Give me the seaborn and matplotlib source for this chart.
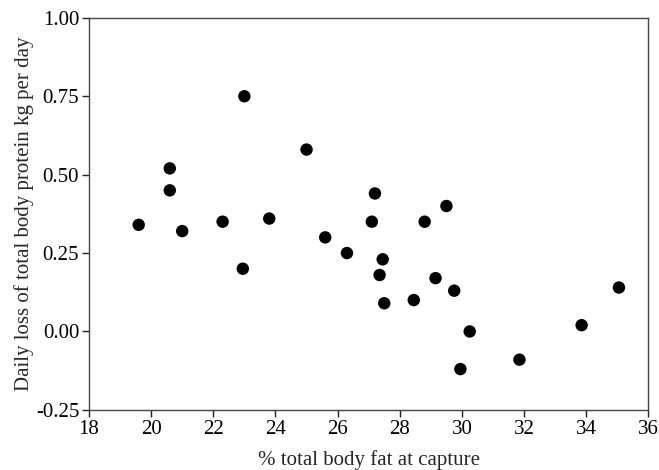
import numpy as np
import pandas as pd
import seaborn as sns
import matplotlib
matplotlib.use("Agg")
import matplotlib.pyplot as plt

# % total body fat at capture
body_fat = [19.6, 20.6, 20.6, 21.0, 22.3, 23.0, 23.8, 25.0, 25.6,
            27.2, 29.5, 27.1, 28.8, 22.95,
            26.3, 27.45, 27.35, 29.15, 29.75, 27.5, 28.45, 35.05,
            30.25, 33.85, 31.85, 29.95]
# daily loss of total body protein (kg per day)
protein_loss = [0.34, 0.52, 0.45, 0.32, 0.35, 0.75, 0.36, 0.58, 0.30,
                0.44, 0.40, 0.35, 0.35, 0.20,
                0.25, 0.23, 0.18, 0.17, 0.13, 0.09, 0.10, 0.14,
                0.00, 0.02, -0.09, -0.12]

x_ticks = [18, 20, 22, 24, 26, 28, 30, 32, 34, 36]
y_ticks = [-0.25, 0.00, 0.25, 0.50, 0.75, 1.00]
y_tick_labels = ["-0.25", "0.00", "0.25", "0.50", "0.75", "1.00"]

df = pd.DataFrame({"fat": body_fat, "loss": protein_loss})

sns.set_theme(style="ticks")
plt.rcParams["font.family"] = ["Liberation Serif", "DejaVu Serif"]

fig = plt.figure(figsize=(6.59, 4.70), dpi=100)
ax = fig.add_axes([0.135, 0.128, 0.849, 0.834])

sns.scatterplot(data=df, x="fat", y="loss", ax=ax, color="black",
                s=80, edgecolor="none", linewidth=0)

ax.set_xlim(18, 36)
ax.set_ylim(-0.25, 1.00)
ax.set_xticks(x_ticks)
ax.set_yticks(y_ticks)
ax.set_yticklabels(y_tick_labels)
ax.tick_params(direction="out", length=5, width=1, colors="#222222",
               labelsize=15, labelcolor="black", pad=2)
for sp in ax.spines.values():
    sp.set_visible(True)
    sp.set_color("#444444")
    sp.set_linewidth(1.0)

ax.set_xlabel("% total body fat at capture", fontsize=15, labelpad=8)
ax.set_ylabel("Daily loss of total body protein kg per day", fontsize=15,
              labelpad=1)

fig.savefig("out.png", dpi=100)
